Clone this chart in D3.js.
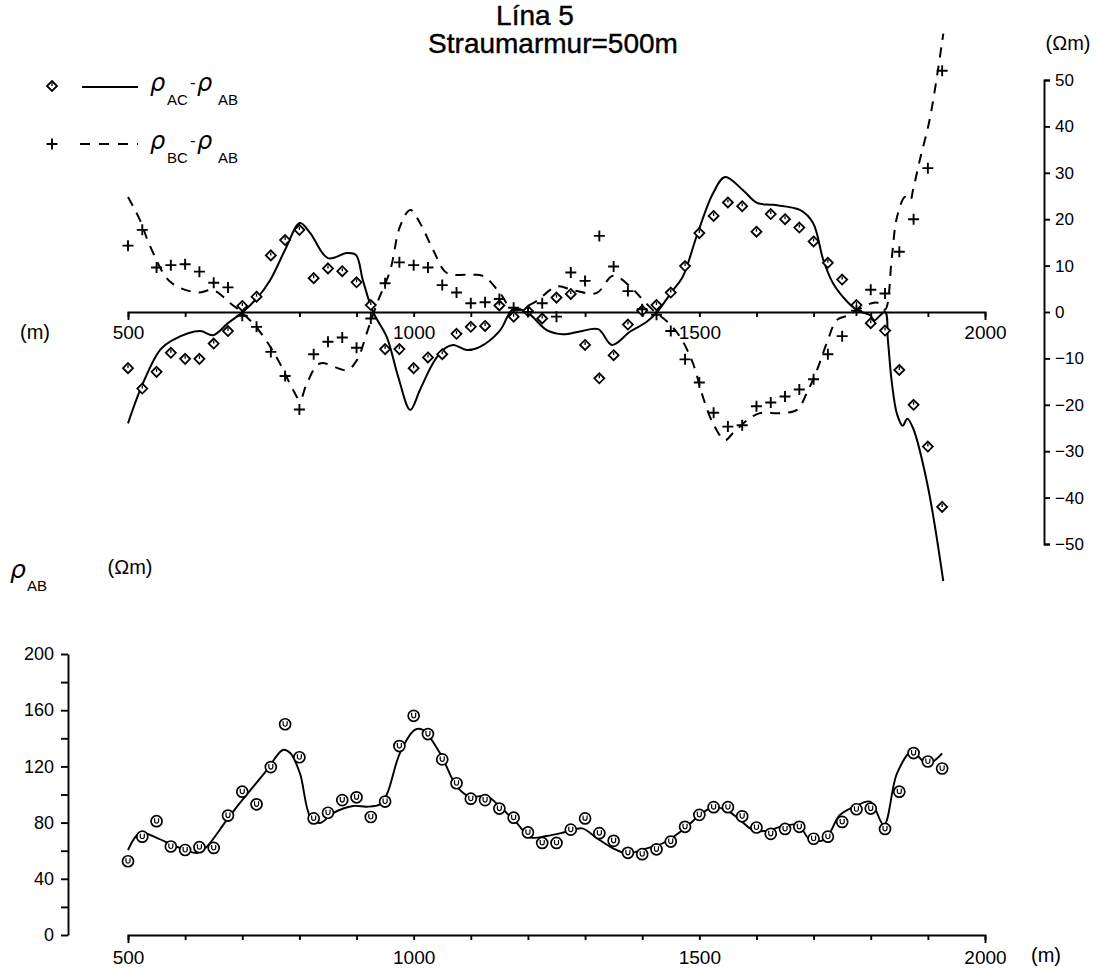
<!DOCTYPE html>
<html lang="is">
<head>
<meta charset="UTF-8" />
<title>Lína 5 - Straumarmur = 500m</title>
<script src="https://d3js.org/d3.v7.min.js"></script>
<style>
  body { margin: 0; background: #fff; }
  svg { display: block; background: #fff; }
  .axis path, .axis line { stroke: #000; stroke-width: 1.9; }
  .axis text { fill: #000; font-family: "Liberation Sans", Arial, sans-serif; }
  .lbl { font-family: "Liberation Sans", Arial, sans-serif; fill: #000; }
  .rho { font-family: "DejaVu Sans", sans-serif; font-style: italic; fill: #000; }
</style>
</head>
<body>
<svg id="chart" width="1096" height="970"></svg>
<script>
// stations (m) along the line
const stations = [500, 525, 550, 575, 600, 625, 650, 675, 700, 725,
  750, 775, 800, 825, 850, 875, 900, 925, 950, 975,
  1000, 1025, 1050, 1075, 1100, 1125, 1150, 1175, 1200, 1225,
  1250, 1275, 1300, 1325, 1350, 1375, 1400, 1425, 1450, 1475,
  1500, 1525, 1550, 1575, 1600, 1625, 1650, 1675, 1700, 1725,
  1750, 1775, 1800, 1825, 1850, 1875, 1900, 1925];

// rho_AC - rho_AB (diamonds)
const acDiff = [-12.1, -16.5, -12.9, -8.8, -10.1, -10.1, -6.8, -4.1, 1.3, 3.3,
  12.2, 15.5, 17.7, 7.3, 9.4, 8.8, 6.4, 1.5, -8.0, -8.0,
  -12.1, -9.8, -9.1, -4.7, -3.2, -3.0, 1.4, -1.0, 0.2, -1.4,
  3.1, 3.9, -7.1, -14.3, -9.3, -2.7, 0.3, 1.5, 4.2, 9.9,
  17.0, 20.7, 23.6, 22.8, 17.3, 21.1, 20.0, 18.2, 15.2, 10.6,
  7.0, 1.5, -2.4, -4.0, -12.5, -20, -29, -42];

// rho_BC - rho_AB (plus signs)
const bcDiff = [14.3, 17.7, 9.6, 10.1, 10.3, 8.7, 6.3, 5.3, -0.8, -3.2,
  -8.6, -13.8, -21, -9.1, -6.4, -5.5, -7.7, -1.4, 6.2, 10.7,
  10.1, 9.6, 5.8, 4.2, 1.9, 2.1, 2.8, 0.9, 0, 1.9,
  -1.0, 8.5, 6.7, 16.4, 9.8, 4.5, 0.6, -0.6, -4.1, -10.2,
  -15.2, -21.7, -24.7, -24.4, -20.3, -19.5, -18.2, -16.7, -14.5, -9.1,
  -5.2, 0.3, 4.8, 4.0, 13, 20, 31, 52];

// rho_AB (circles)
const rhoAB = [52.5, 70, 81, 63, 60.5, 62.5, 62, 85, 102, 93,
  119.5, 150, 126.5, 83, 87, 96, 98, 84, 95, 134.5,
  156, 143, 125, 108, 97, 96, 90, 83.5, 73, 65.5,
  65.5, 75, 83, 72.5, 67, 58.5, 57.5, 61, 66.5, 77,
  85.5, 91, 91, 84.5, 76.5, 72, 75.5, 77, 68.5, 70,
  80.5, 89.5, 90, 75.5, 102, 129.5, 123.5, 118.5];

// smoothed curves (positions in m, values in ohm-m)
const acCurveM = [500, 526, 556, 579, 626, 649, 675, 701, 726, 749, 775, 801, 819, 850, 883, 899, 911, 929,
  953, 973, 994, 1011, 1034, 1051, 1069, 1093, 1116, 1151, 1174, 1198, 1233, 1261, 1291, 1323, 1347,
  1379, 1408, 1426, 1452, 1471, 1496, 1524, 1545, 1576, 1601, 1629, 1676, 1699, 1717, 1734, 1759,
  1776, 1799, 1806, 1825, 1830, 1837, 1846, 1856, 1864, 1874, 1899, 1927];
const acCurveV = [-24, -15.4, -8.2, -6, -4.1, -5, -2.4, 0, 3, 6.9, 13.4, 19.2, 17, 11.6, 12.7, 12.3, 6.9, 0,
  -5.4, -14, -21.1, -16.8, -11, -8.2, -7.1, -8.2, -7.5, -4, 0.6, 0, -3.9, -4.8, -4.2, -3.7, -7.1,
  -4.2, -2.1, 0, 4.4, 7.6, 16.6, 25.6, 29.1, 26.3, 23.5, 23.1, 22, 19.2, 11.2, 6.2, 2.2,
  0.4, -0.7, -1.8, 0, -6, -15.3, -22, -24.5, -23, -25, -37, -58];

const bcCurveM = [500, 521, 539, 574, 621, 649, 679, 701, 726, 749, 766, 789, 801, 813, 836, 883, 901, 918,
  936, 959, 976, 994, 1011, 1034, 1058, 1093, 1121, 1151, 1174, 1209, 1251, 1279, 1320, 1349, 1379,
  1396, 1419, 1444, 1466, 1489, 1506, 1524, 1545, 1559, 1584, 1606, 1641, 1671, 1688, 1706, 1723,
  1741, 1759, 1776, 1799, 1812, 1825, 1837, 1846, 1860, 1869, 1874, 1886, 1904, 1927];
const bcCurveV = [24.8, 19.8, 14.1, 6.5, 4.2, 4.7, 1.9, -0.3, -3.5, -7.5, -11.1, -16.8, -19, -15.4, -11.1, -12.5, -10.3, -4.5,
  1.9, 9, 18.4, 22, 19.2, 13.4, 8.4, 8, 7.8, 4.1, 0.4, 1.9, 5.5, 4.7, 4.1, 7.8, 5.5,
  3.3, 0.4, -2.1, -5.3, -11.1, -18.2, -24, -27.6, -26.1, -23.3, -21.8, -21.8, -21.1, -17.5, -12.5, -6.7,
  -1.7, -0.8, 0.4, 1.8, 2, 0.5, 11.9, 20.5, 24.8, 24, 26.3, 32.8, 42, 60];

const abCurveM = [500, 521, 551, 579, 621, 638, 673, 696, 743, 771, 784, 801, 819, 836, 859, 894, 918, 941,
  953, 976, 1002, 1016, 1046, 1076, 1099, 1128, 1151, 1181, 1204, 1233, 1268, 1295, 1321, 1349, 1373,
  1408, 1436, 1471, 1501, 1524, 1549, 1571, 1594, 1619, 1641, 1673, 1694, 1720, 1746, 1774, 1799,
  1823, 1846, 1872, 1899, 1925];
const abCurveV = [60.5, 72.6, 69, 64, 58.4, 62.9, 81.9, 94, 117.4, 131.7, 129.5, 115, 84.2, 79.7, 86.8, 91.8, 91.3, 93,
  100, 129.5, 146, 146, 129.5, 105.5, 98.4, 98.9, 91.3, 79.5, 69.5, 70.5, 73.5, 75.9, 68.8, 61.7, 58.1,
  61.7, 65.3, 74.7, 85.4, 90.9, 88.5, 81.9, 74.7, 74.2, 77, 78.3, 67.6, 68.1, 85.4, 91.8, 94.9,
  78.3, 115, 130.5, 121.7, 129.3];

const xTicks = [500, 600, 700, 800, 900, 1000, 1100, 1200, 1300, 1400, 1500, 1600, 1700, 1800, 1900, 2000];
const yTopTicks = [-50, -40, -30, -20, -10, 0, 10, 20, 30, 40, 50];
const yBotTicks = [0, 20, 40, 60, 80, 100, 120, 140, 160, 180, 200];

const svg = d3.select("#chart");

const x = d3.scaleLinear().domain([500, 2000]).range([128, 985]);
const yTop = d3.scaleLinear().domain([-50, 50]).range([544, 80]);
const yBot = d3.scaleLinear().domain([0, 200]).range([935, 654]);

function cleanAxis(g, size) {
  g.attr("font-size", null).attr("font-family", null);
  g.selectAll("text").attr("font-size", size);
}

// ---- title
svg.append("text").attr("class", "lbl").attr("x", 535).attr("y", 25)
  .attr("text-anchor", "middle").attr("font-size", 28).attr("stroke", "#000").attr("stroke-width", 0.4)
  .text("Lína 5");
svg.append("text").attr("class", "lbl").attr("x", 553).attr("y", 53)
  .attr("text-anchor", "middle").attr("font-size", 28).attr("stroke", "#000").attr("stroke-width", 0.4)
  .text("Straumarmur=500m");

// ---- top panel axes
svg.append("g").attr("class", "axis")
  .attr("transform", `translate(0,${yTop(0)})`)
  .call(d3.axisBottom(x).tickValues(xTicks).tickSize(5).tickSizeOuter(8).tickPadding(9)
    .tickFormat(d => d % 500 === 0 ? d : ""))
  .call(g => cleanAxis(g, 19));

svg.append("g").attr("class", "axis")
  .attr("transform", `translate(1044,0)`)
  .call(d3.axisRight(yTop).tickValues(yTopTicks).tickSize(6).tickSizeOuter(6).tickPadding(5))
  .call(g => cleanAxis(g, 17));

svg.append("text").attr("class", "lbl").attr("x", 1068).attr("y", 50)
  .attr("text-anchor", "middle").attr("font-size", 20).text("(Ωm)");
svg.append("text").attr("class", "lbl").attr("x", 35).attr("y", 339)
  .attr("text-anchor", "middle").attr("font-size", 20).text("(m)");

// ---- top panel curves
const topLine = d3.line()
  .x(d => x(d[0])).y(d => yTop(d[1]))
  .curve(d3.curveCatmullRom.alpha(0.5));

svg.append("path").datum(d3.zip(acCurveM, acCurveV))
  .attr("d", topLine).attr("fill", "none").attr("stroke", "#000").attr("stroke-width", 2);
svg.append("path").datum(d3.zip(bcCurveM, bcCurveV))
  .attr("d", topLine).attr("fill", "none").attr("stroke", "#000").attr("stroke-width", 2)
  .attr("stroke-dasharray", "10,8");

// markers
const diamondPath = "M0,-5L5,0L0,5L-5,0Z";
function drawDiamond(g) {
  g.append("path").attr("d", diamondPath).attr("fill", "#fff").attr("stroke", "#000").attr("stroke-width", 1.8);
  g.append("path").attr("d", "M0,-3V0").attr("stroke", "#000").attr("stroke-width", 1.3);
}
function drawPlus(g) {
  g.append("path").attr("d", "M-5.5,0H5.5M0,-5.5V5.5").attr("stroke", "#000").attr("stroke-width", 1.9);
}

svg.append("g").selectAll("g").data(d3.zip(stations, acDiff)).join("g")
  .attr("transform", d => `translate(${x(d[0])},${yTop(d[1])})`)
  .each(function () { drawDiamond(d3.select(this)); });

svg.append("g").selectAll("g").data(d3.zip(stations, bcDiff)).join("g")
  .attr("transform", d => `translate(${x(d[0])},${yTop(d[1])})`)
  .each(function () { drawPlus(d3.select(this)); });

// ---- legend
const leg = svg.append("g");
drawDiamond(leg.append("g").attr("transform", "translate(52,86)"));
leg.append("path").attr("d", "M82,87H138").attr("stroke", "#000").attr("stroke-width", 2);
drawPlus(leg.append("g").attr("transform", "translate(52,144)"));
leg.append("path").attr("d", "M80,144H138").attr("stroke", "#000").attr("stroke-width", 2)
  .attr("stroke-dasharray", "10,9");

function rhoLabel(g, x0, y0, sub1, sub2) {
  g.append("text").attr("class", "rho").attr("x", x0).attr("y", y0).attr("font-size", 24).text("ρ");
  g.append("text").attr("class", "lbl").attr("x", x0 + 17).attr("y", y0 + 14).attr("font-size", 15).text(sub1);
  g.append("text").attr("class", "lbl").attr("x", x0 + 40).attr("y", y0 - 3).attr("font-size", 17).text("-");
  g.append("text").attr("class", "rho").attr("x", x0 + 47).attr("y", y0).attr("font-size", 24).text("ρ");
  g.append("text").attr("class", "lbl").attr("x", x0 + 68).attr("y", y0 + 14).attr("font-size", 15).text(sub2);
}
rhoLabel(leg, 150, 91, "AC", "AB");
rhoLabel(leg, 150, 149, "BC", "AB");

// ---- bottom panel
svg.append("g").attr("class", "axis")
  .attr("transform", `translate(0,${yBot(0)})`)
  .call(d3.axisBottom(x).tickValues(xTicks).tickSize(5).tickSizeOuter(8).tickPadding(11)
    .tickFormat(d => d % 500 === 0 ? d : ""))
  .call(g => cleanAxis(g, 19));

svg.append("g").attr("class", "axis")
  .attr("transform", `translate(68,0)`)
  .call(d3.axisLeft(yBot).tickValues(yBotTicks).tickSize(7).tickSizeOuter(0).tickPadding(7)
    .tickFormat(d => d % 40 === 0 ? d : ""))
  .call(g => cleanAxis(g, 18));

svg.append("text").attr("class", "lbl").attr("x", 1046).attr("y", 962)
  .attr("text-anchor", "middle").attr("font-size", 20).text("(m)");
svg.append("text").attr("class", "rho").attr("x", 10).attr("y", 578).attr("font-size", 25).text("ρ");
svg.append("text").attr("class", "lbl").attr("x", 27).attr("y", 591).attr("font-size", 15).text("AB");
svg.append("text").attr("class", "lbl").attr("x", 130).attr("y", 574)
  .attr("text-anchor", "middle").attr("font-size", 20).text("(Ωm)");

const botLine = d3.line()
  .x(d => x(d[0])).y(d => yBot(d[1]))
  .curve(d3.curveCatmullRom.alpha(0.5));

svg.append("path").datum(d3.zip(abCurveM, abCurveV))
  .attr("d", botLine).attr("fill", "none").attr("stroke", "#000").attr("stroke-width", 1.9);

const circ = svg.append("g").selectAll("g").data(d3.zip(stations, rhoAB)).join("g")
  .attr("transform", d => `translate(${x(d[0])},${yBot(d[1])})`);
circ.append("circle").attr("r", 5.5).attr("fill", "#fff").attr("stroke", "#000").attr("stroke-width", 1.7);
circ.append("path").attr("d", "M-2,-3V0A2,2 0 0 0 2,0V-3").attr("fill", "none")
  .attr("stroke", "#000").attr("stroke-width", 1.2);
</script>
</body>
</html>
